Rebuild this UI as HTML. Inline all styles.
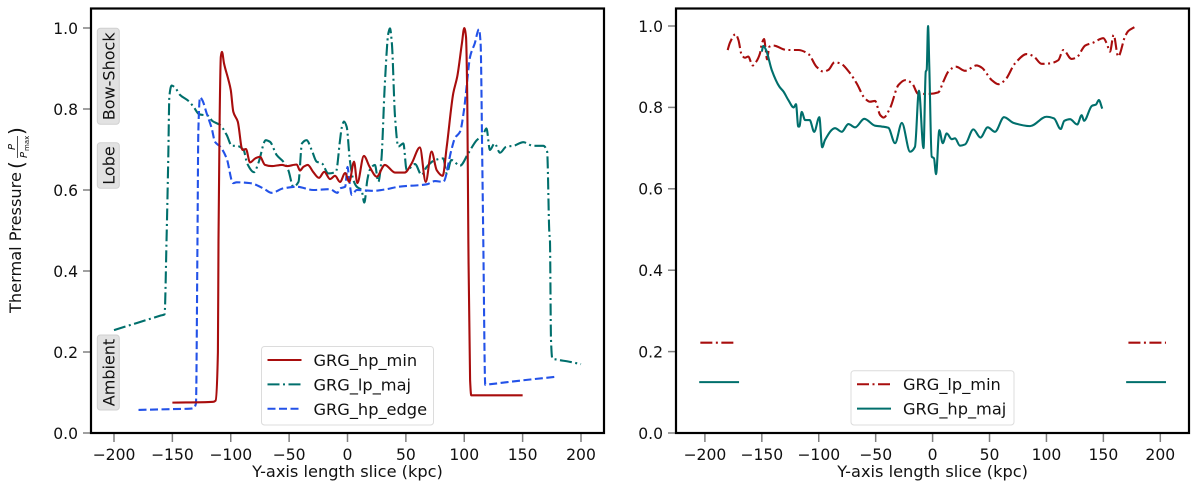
<!DOCTYPE html>
<html lang="en">
<head>
<meta charset="utf-8">
<title>Thermal pressure profiles</title>
<style>
html,body{margin:0;padding:0;background:#fff;width:1200px;height:482px;overflow:hidden}
svg{display:block;filter:blur(0.35px)}
text{font-family:"DejaVu Sans","Liberation Sans",sans-serif;fill:#111}
</style>
</head>
<body>
<svg id="chart" xmlns="http://www.w3.org/2000/svg" width="1200" height="482" viewBox="0 0 1200 482">
  <g id="left-panel"></g>
  <g id="right-panel"></g>
  <g transform="translate(21,313) rotate(-90)">
    <text x="0" y="0" font-size="16.2">Thermal Pressure</text>
    <text x="144" y="2.7" font-size="20">(</text>
    <text x="163" y="-6" font-size="10" font-style="italic">P</text>
    <line x1="155" x2="177" y1="-3.5" y2="-3.5" stroke="#222" stroke-width="0.8"></line>
    <text x="155" y="6" font-size="10" font-style="italic">P</text>
    <text x="162" y="8" font-size="7">max</text>
    <text x="178" y="2.7" font-size="20">)</text>
  </g>
</svg>
<script>
var xTicks = [-200, -150, -100, -50, 0, 50, 100, 150, 200];
var yTicks = [0, 0.2, 0.4, 0.6, 0.8, 1.0];

var hpMinPoints = [[-150,.075],[-115,.077],[-113,.08],[-111,.2],[-110.5,.476],[-109.5,.78],[-108.5,.929],[-107.5,.941],[-105.8,.913],[-102,.872],[-100,.847],[-97.8,.793],[-94,.769],[-90,.699],[-87,.701],[-83.5,.668],[-79,.678],[-75,.682],[-70.7,.662],[-65,.659],[-56,.662],[-52,.659],[-43.5,.663],[-40.7,.648],[-37.8,.657],[-34,.662],[-29.5,.645],[-24.4,.63],[-19.9,.645],[-15,.627],[-10.7,.635],[-6.4,.62],[-2,.642],[1.5,.62],[5.6,.67],[8.4,.617],[14,.684],[19,.657],[25,.633],[32,.662],[40.7,.643],[49,.643],[55,.666],[62,.705],[67,.62],[72,.695],[76.4,.649],[81.5,.635],[85,.707],[90.6,.839],[94,.88],[98,.962],[100,1.0],[101.5,.978],[102.6,.822],[103.5,.476],[105,.131],[106,.093],[150,.093]];

var lpMajPoints = [[-200,.254],[-180,.272],[-160,.29],[-156.7,.293],[-155,.477],[-153.5,.682],[-152.6,.83],[-150.6,.858],[-147.8,.853],[-143.5,.835],[-136.3,.82],[-132,.806],[-127,.787],[-119,.783],[-116,.771],[-109,.76],[-103.5,.736],[-99,.709],[-95,.709],[-89,.699],[-86,.666],[-80,.644],[-76.4,.666],[-70,.723],[-66.4,.719],[-60.6,.686],[-55,.67],[-50.7,.649],[-46.4,.608],[-42,.62],[-39,.715],[-35,.723],[-30.7,.699],[-26.4,.67],[-22,.666],[-16.4,.641],[-9.9,.645],[-6.4,.723],[-5,.753],[-3,.769],[-0.7,.756],[2,.674],[5,.625],[8,.608],[12,.6],[14.4,.569],[17,.625],[19,.649],[23.5,.662],[26.4,.62],[29,.674],[32,.863],[35,.987],[36.4,.999],[38,.962],[40.7,.781],[43.5,.707],[47.8,.715],[50.7,.649],[57.8,.664],[63.5,.637],[67.8,.657],[75,.674],[82,.678],[85,.641],[89,.674],[96.4,.66],[103.5,.691],[110.7,.723],[116,.736],[119,.752],[122,.699],[126,.715],[130.6,.692],[136,.707],[142,.709],[150.6,.718],[159,.709],[167.7,.709],[171,.695],[172.9,.493],[173.4,.476],[174.3,.23],[175.4,.184],[178,.182],[190,.176],[200,.17]];

var hpEdgePoints = [[-179,.057],[-150,.059],[-135,.06],[-132,.061],[-129.8,.073],[-128.5,.477],[-127.8,.74],[-126.3,.829],[-124.4,.822],[-120.6,.789],[-116.3,.752],[-113.5,.719],[-109,.707],[-103.5,.678],[-98,.617],[-95,.619],[-83.5,.617],[-72,.604],[-65,.593],[-55,.604],[-43.5,.608],[-29.3,.6],[-15,.602],[-8.7,.593],[-6.4,.604],[-2,.608],[0,.657],[1.5,.625],[3.6,.588],[8,.6],[22,.598],[33.6,.602],[43.5,.608],[67.8,.614],[75,.622],[82,.62],[89,.699],[92,.728],[96.4,.744],[99.8,.798],[102,.855],[105,.929],[109,.962],[112.6,.997],[114,.962],[115.5,.657],[116.3,.477],[118,.119],[121,.12],[150,.13],[179.3,.139]];

var lpMinPoints = [[-180,.941],[-178,.959],[-173,.98],[-170.6,.966],[-167.7,.929],[-164.8,.922],[-162,.925],[-158,.903],[-155,.912],[-151.6,.933],[-150,.957],[-148,.968],[-146.6,.941],[-145.4,.918],[-143.4,.949],[-140,.952],[-128,.941],[-118,.941],[-109,.931],[-102,.9],[-96,.888],[-91.6,.892],[-86,.911],[-81,.908],[-72.5,.884],[-66.7,.859],[-59.4,.822],[-55,.814],[-50.6,.816],[-46,.781],[-43,.775],[-37.4,.798],[-30,.855],[-24,.867],[-18,.859],[-12.6,.833],[-3.8,.833],[5,.837],[9.4,.863],[13.8,.888],[20.5,.9],[28.5,.89],[38.7,.903],[43,.898],[52,.867],[57.7,.857],[63.6,.867],[72.4,.908],[82.7,.931],[88.5,.926],[95.8,.907],[103,.908],[110.4,.916],[114.8,.941],[122,.919],[126.6,.923],[134,.952],[141,.959],[150,.97],[153,.957],[155.8,.937],[159,.978],[163,.925],[169,.974],[172,.988],[177.8,.998]];

var hpMajPoints = [[-150,.937],[-148.7,.951],[-146.3,.941],[-141.3,.892],[-134.6,.851],[-131,.839],[-126.7,.818],[-122,.8],[-120,.808],[-118,.753],[-117,.753],[-115,.789],[-112,.769],[-108,.769],[-104,.74],[-99.5,.776],[-97,.702],[-94.5,.72],[-85.7,.749],[-79.8,.74],[-74,.759],[-68,.751],[-60,.772],[-50.6,.755],[-44.7,.753],[-38.9,.75],[-33,.712],[-27,.762],[-19.8,.691],[-15.5,.703],[-12,.841],[-8,.7],[-6,.888],[-5.2,.892],[-4,1.0],[-2.9,.9],[-0.8,.679],[1.2,.675],[3,.636],[5.9,.744],[8.9,.712],[12.4,.736],[16.8,.722],[19.7,.724],[24,.706],[28.5,.709],[35.8,.746],[42,.726],[48.4,.751],[54.8,.74],[62.7,.776],[71,.762],[85.6,.754],[100,.777],[106.6,.773],[112.5,.747],[115.7,.767],[120.7,.771],[127,.758],[131,.781],[133,.767],[140,.804],[143.5,.807],[146,.818],[149,.797]];

var lpMinEndLeft = [[-204,.222],[-172,.222]];
var lpMinEndRight = [[172,.222],[205,.222]];
var hpMajEndLeft = [[-205,.125],[-170,.125]];
var hpMajEndRight = [[170,.125],[205,.125]];

var RED = '#a80d0d', TEAL = '#006f6c', BLUE = '#2352e8';
var DASHDOT = '12 3.5 2 3.5', DASHED = '8 3.5';
var NS = 'http://www.w3.org/2000/svg';

function make(tag, parent) {
  var el = document.createElementNS(NS, tag);
  parent.appendChild(el);
  return el;
}

var leftX = function (v) { return 347.5 + v * 1.1675; };
var leftY = function (v) { return 433 - v * 405; };
var rightX = function (v) { return 932.6 + v * 1.1385; };
var rightY = function (v) { return 433 - v * 407; };

function tickLabel(v) {
  return String(v).replace('-', '\u2212');
}

function monotonePath(xs, ys) {
  var n = xs.length, d = 'M' + xs[0].toFixed(2) + ' ' + ys[0].toFixed(2);
  if (n < 3) {
    for (var k = 1; k < n; k++) { d += 'L' + xs[k].toFixed(2) + ' ' + ys[k].toFixed(2); }
    return d;
  }
  var slopes = [], tangents = [];
  for (var i = 0; i < n - 1; i++) { slopes.push((ys[i + 1] - ys[i]) / (xs[i + 1] - xs[i])); }
  tangents.push(slopes[0]);
  for (var j = 1; j < n - 1; j++) {
    if (slopes[j - 1] * slopes[j] <= 0) { tangents.push(0); }
    else {
      var h0 = xs[j] - xs[j - 1], h1 = xs[j + 1] - xs[j];
      tangents.push((h0 + h1) * 3 * slopes[j - 1] * slopes[j] / ((2 * h1 + h0) * slopes[j] + (2 * h0 + h1) * slopes[j - 1]));
    }
  }
  tangents.push(slopes[n - 2]);
  for (var m = 0; m < n - 1; m++) {
    var h = (xs[m + 1] - xs[m]) / 3;
    d += 'C' + (xs[m] + h).toFixed(2) + ' ' + (ys[m] + tangents[m] * h).toFixed(2) + ' ' +
      (xs[m + 1] - h).toFixed(2) + ' ' + (ys[m + 1] - tangents[m + 1] * h).toFixed(2) + ' ' +
      xs[m + 1].toFixed(2) + ' ' + ys[m + 1].toFixed(2);
  }
  return d;
}

function drawAxes(parent, sx, sy, x0, x1, name) {
  xTicks.forEach(function (t) {
    var tick = make('line', parent);
    
    
    tick.setAttribute('x1', sx(t)); tick.setAttribute('x2', sx(t));
    tick.setAttribute('y1', 433); tick.setAttribute('y2', 442);
    tick.setAttribute('stroke', '#808080'); tick.setAttribute('stroke-width', 1.5);
    var lab = make('text', parent);
    
    
    lab.setAttribute('x', sx(t)); lab.setAttribute('y', 460);
    lab.setAttribute('text-anchor', 'middle'); lab.setAttribute('font-size', 15.6);
    lab.textContent = tickLabel(t);
  });
  yTicks.forEach(function (t) {
    var tick = make('line', parent);
    
    
    tick.setAttribute('x1', x0 - 8); tick.setAttribute('x2', x0);
    tick.setAttribute('y1', sy(t)); tick.setAttribute('y2', sy(t));
    tick.setAttribute('stroke', '#808080'); tick.setAttribute('stroke-width', 1.5);
    var lab = make('text', parent);
    
    
    lab.setAttribute('x', x0 - 13); lab.setAttribute('y', sy(t) + 5.8);
    lab.setAttribute('text-anchor', 'end'); lab.setAttribute('font-size', 15.6);
    lab.textContent = t.toFixed(1);
  });
  var title = make('text', parent);
  
  
  title.setAttribute('x', sx(0)); title.setAttribute('y', 477);
  title.setAttribute('text-anchor', 'middle'); title.setAttribute('font-size', 16.2);
  title.textContent = 'Y-axis length slice (kpc)';
}

function drawFrame(parent, x0, x1, name) {
  var frame = make('rect', parent);
  
  
  frame.setAttribute('x', x0); frame.setAttribute('y', 8.5);
  frame.setAttribute('width', x1 - x0); frame.setAttribute('height', 424.5);
  frame.setAttribute('fill', 'none'); frame.setAttribute('stroke', '#000');
  frame.setAttribute('stroke-width', 2.2);
}

function drawLine(parent, pts, sx, sy, color, dash, name) {
  var line = make('path', parent);
  
  
  var xs = pts.map(function (p) { return sx(p[0]); });
  var ys = pts.map(function (p) { return sy(p[1]); });
  line.setAttribute('d', monotonePath(xs, ys));
  line.setAttribute('fill', 'none');
  line.setAttribute('stroke', color);
  line.setAttribute('stroke-width', 2.1);
  line.setAttribute('stroke-linejoin', 'round');
  if (dash) { line.setAttribute('stroke-dasharray', dash); }
}

function drawAnnotation(parent, x, y0, y1, label, name) {
  var box = make('rect', parent);
  
  
  box.setAttribute('x', x); box.setAttribute('y', y0);
  box.setAttribute('width', 22); box.setAttribute('height', y1 - y0);
  box.setAttribute('rx', 3); box.setAttribute('fill', '#e2e2e2');
  box.setAttribute('stroke', '#d0d0d0');
  var text = make('text', parent);
  
  
  text.setAttribute('transform', 'translate(' + (x + 17) + ',' + ((y0 + y1) / 2) + ') rotate(-90)');
  text.setAttribute('text-anchor', 'middle');
  text.setAttribute('font-size', 16);
  text.textContent = label;
}

function drawLegend(parent, x, y, w, h, entries, name) {
  var box = make('rect', parent);
  
  
  box.setAttribute('x', x); box.setAttribute('y', y);
  box.setAttribute('width', w); box.setAttribute('height', h);
  box.setAttribute('rx', 3); box.setAttribute('fill', '#fff');
  box.setAttribute('stroke', '#dcdcdc');
  entries.forEach(function (e, i) {
    var cy = y + 13.5 + i * 24.4;
    var handle = make('line', parent);
    
    
    handle.setAttribute('x1', x + 6); handle.setAttribute('x2', x + 40);
    handle.setAttribute('y1', cy); handle.setAttribute('y2', cy);
    handle.setAttribute('stroke', e.color); handle.setAttribute('stroke-width', 2);
    if (e.dash) { handle.setAttribute('stroke-dasharray', e.dash); }
    var text = make('text', parent);
    
    
    text.setAttribute('x', x + 52); text.setAttribute('y', cy + 6);
    text.setAttribute('font-size', 16.2);
    text.textContent = e.label;
  });
}

var lp = document.getElementById('left-panel');
drawAxes(lp, leftX, leftY, 91, 604, 'left');
drawLine(lp, lpMajPoints, leftX, leftY, TEAL, DASHDOT, 'series-grg-lp-maj');
drawLine(lp, hpEdgePoints, leftX, leftY, BLUE, DASHED, 'series-grg-hp-edge');
drawLine(lp, hpMinPoints, leftX, leftY, RED, '', 'series-grg-hp-min');
drawAnnotation(lp, 97.3, 28.3, 124.3, 'Bow-Shock', 'annotation-bow-shock');
drawAnnotation(lp, 97.3, 142.7, 188.3, 'Lobe', 'annotation-lobe');
drawAnnotation(lp, 97.3, 335, 410, 'Ambient', 'annotation-ambient');
drawLegend(lp, 261.5, 346.5, 172, 78.5, [
  {label: 'GRG_hp_min', color: RED, dash: ''},
  {label: 'GRG_lp_maj', color: TEAL, dash: DASHDOT},
  {label: 'GRG_hp_edge', color: BLUE, dash: DASHED}
], 'left-legend');
drawFrame(lp, 91, 604, 'left');

var rp = document.getElementById('right-panel');
drawAxes(rp, rightX, rightY, 676, 1189, 'right');
drawLine(rp, lpMinPoints, rightX, rightY, RED, DASHDOT, 'series-grg-lp-min');
drawLine(rp, lpMinEndLeft, rightX, rightY, RED, DASHDOT, 'series-grg-lp-min-ambient-left');
drawLine(rp, lpMinEndRight, rightX, rightY, RED, DASHDOT, 'series-grg-lp-min-ambient-right');
drawLine(rp, hpMajPoints, rightX, rightY, TEAL, '', 'series-grg-hp-maj');
drawLine(rp, hpMajEndLeft, rightX, rightY, TEAL, '', 'series-grg-hp-maj-ambient-left');
drawLine(rp, hpMajEndRight, rightX, rightY, TEAL, '', 'series-grg-hp-maj-ambient-right');
drawLegend(rp, 851, 370.7, 163, 54.3, [
  {label: 'GRG_lp_min', color: RED, dash: DASHDOT},
  {label: 'GRG_hp_maj', color: TEAL, dash: ''}
], 'right-legend');
drawFrame(rp, 676, 1189, 'right');
</script>
</body>
</html>
